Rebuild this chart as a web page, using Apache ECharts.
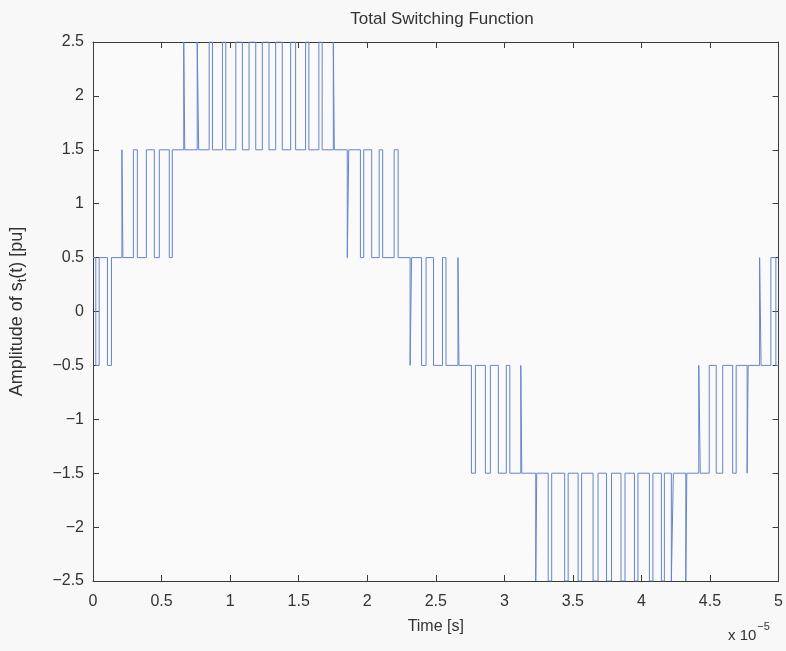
<!DOCTYPE html>
<html>
<head>
<meta charset="utf-8">
<title>Total Switching Function</title>
<script src="https://cdn.jsdelivr.net/npm/echarts@6/dist/echarts.min.js"></script>
<style>
  html, body { margin: 0; padding: 0; background: #f7f8f7; }
  #chart { width: 786px; height: 651px; }
</style>
</head>
<body>
<div id="chart"></div>
<script>
// switching instants, in units of 1e-5 s
const edgeTimes = [
  0,
  0.0204, 0.0451, 0.1055, 0.1345,
  0.2109, 0.2182, 0.2945, 0.3236, 0.3891, 0.4473, 0.4836, 0.5564, 0.5782,
  0.6618, 0.6691, 0.7600, 0.7709, 0.8473, 0.8713, 0.9440, 0.9687,
  1.0415, 1.0895, 1.1382, 1.1869, 1.2349, 1.2836, 1.3324, 1.3804,
  1.4415, 1.4778, 1.5505, 1.5745, 1.6473, 1.6713, 1.7527, 1.7600,
  1.8545, 1.8655, 1.9505, 1.9745, 2.0327, 2.0873, 2.1127, 2.1964, 2.2255,
  2.3127, 2.3236, 2.3964, 2.4291, 2.4836, 2.5491, 2.5745, 2.6618, 2.6691,
  2.7600, 2.7891, 2.8618, 2.8982, 2.9564, 3.0145, 3.0400, 3.1200, 3.1273,
  3.2291, 3.2364, 3.3200, 3.3455, 3.4400, 3.4655, 3.5382, 3.5636,
  3.6473, 3.6836, 3.7455, 3.7818, 3.8509, 3.8800, 3.9491, 3.9745,
  4.0582, 4.0836, 4.1455, 4.1673, 4.2182, 4.2327, 4.3236, 4.3309,
  4.4182, 4.4291, 4.4945, 4.5455, 4.5927, 4.6655, 4.6909, 4.7709, 4.7782,
  4.8618, 4.8727, 4.9440, 4.9804,
  5.0
];
// level held after each instant [pu]
const edgeLevels = [
  0.5,
  -0.5, 0.5, -0.5, 0.5,
  1.5, 0.5, 1.5, 0.5, 1.5, 0.5, 1.5, 0.5, 1.5,
  2.5, 1.5, 2.5, 1.5, 2.5, 1.5, 2.5, 1.5,
  2.5, 1.5, 2.5, 1.5, 2.5, 1.5, 2.5, 1.5,
  2.5, 1.5, 2.5, 1.5, 2.5, 1.5, 2.5, 1.5,
  0.5, 1.5, 0.5, 1.5, 0.5, 1.5, 0.5, 1.5, 0.5,
  -0.5, 0.5, -0.5, 0.5, -0.5, 0.5, -0.5, 0.5, -0.5,
  -1.5, -0.5, -1.5, -0.5, -1.5, -0.5, -1.5, -0.5, -1.5,
  -2.5, -1.5, -2.5, -1.5, -2.5, -1.5, -2.5, -1.5,
  -2.5, -1.5, -2.5, -1.5, -2.5, -1.5, -2.5, -1.5,
  -2.5, -1.5, -2.5, -1.5, -2.5, -1.5, -2.5, -1.5,
  -0.5, -1.5, -0.5, -1.5, -0.5, -1.5, -0.5, -1.5, -0.5,
  0.5, -0.5, 0.5, -0.5,
  -0.5
];
const xTicks = [0, 0.5, 1, 1.5, 2, 2.5, 3, 3.5, 4, 4.5, 5];
const yTicks = [-2.5, -2, -1.5, -1, -0.5, 0, 0.5, 1, 1.5, 2, 2.5];

const font = '"Liberation Sans", Arial, sans-serif';
const minus = v => String(v).replace('-', '\u2212');

// each switching instant becomes a vertical jump: old level -> new level
const wave = [[edgeTimes[0], edgeLevels[0]]];
for (let i = 1; i < edgeTimes.length; i++) {
  wave.push([edgeTimes[i], edgeLevels[i - 1]]);
  wave.push([edgeTimes[i], edgeLevels[i]]);
}

const chart = echarts.init(document.getElementById('chart'));

const boxAxis = {
  axisLine: { show: true, onZero: false, lineStyle: { color: '#3a3a3a', width: 1 } },
  axisTick: { show: true, inside: true, length: 6, lineStyle: { color: '#3a3a3a' } },
  splitLine: { show: false }
};

chart.setOption({
  backgroundColor: '#f7f8f7',
  animation: false,
  title: {
    text: 'Total Switching Function',
    left: 437,
    textAlign: 'center',
    top: 6,
    textStyle: { fontFamily: font, fontSize: 17, fontWeight: 'normal', color: '#333' }
  },
  grid: { left: 93, right: 6, top: 42, bottom: 70, show: true, backgroundColor: '#f9faf9', borderWidth: 0 },
  xAxis: [
    Object.assign({
      type: 'value', min: xTicks[0], max: xTicks[xTicks.length - 1], interval: 0.5,
      name: 'Time [s]', nameLocation: 'middle', nameGap: 38,
      nameTextStyle: { fontFamily: font, fontSize: 16, color: '#333' },
      axisLabel: { fontFamily: font, fontSize: 16, color: '#333', margin: 13, formatter: v => minus(v) }
    }, boxAxis),
    Object.assign({
      type: 'value', position: 'top', min: 0, max: 5, interval: 0.5,
      axisLabel: { show: false }
    }, boxAxis)
  ],
  yAxis: [
    Object.assign({
      type: 'value', min: yTicks[0], max: yTicks[yTicks.length - 1], interval: 0.5,
      name: '{n|Amplitude of s}{s|t}{n|(t) [pu]}', nameLocation: 'middle', nameGap: 64,
      nameTextStyle: {
        rich: {
          n: { fontFamily: font, fontSize: 18, color: '#333' },
          s: { fontFamily: font, fontSize: 13, color: '#333', verticalAlign: 'bottom', padding: [10, 0, 0, 0] }
        }
      },
      axisLabel: { fontFamily: font, fontSize: 16, color: '#333', margin: 9, formatter: v => minus(v) }
    }, boxAxis),
    Object.assign({
      type: 'value', position: 'right', min: -2.5, max: 2.5, interval: 0.5,
      axisLabel: { show: false }
    }, boxAxis)
  ],
  graphic: [{
    type: 'text',
    left: 728,
    top: 621,
    style: {
      text: '{n|x 10}{p|\u22125}',
      rich: {
        n: { fontFamily: font, fontSize: 15, fill: '#333', padding: [12, 0, 0, 0] },
        p: { fontFamily: font, fontSize: 11, fill: '#333', padding: [0, 0, 6, 1] }
      }
    }
  }],
  series: [{
    type: 'line',
    showSymbol: false,
    lineStyle: { color: '#6584cc', width: 1 },
    data: wave
  }]
});
</script>
</body>
</html>
